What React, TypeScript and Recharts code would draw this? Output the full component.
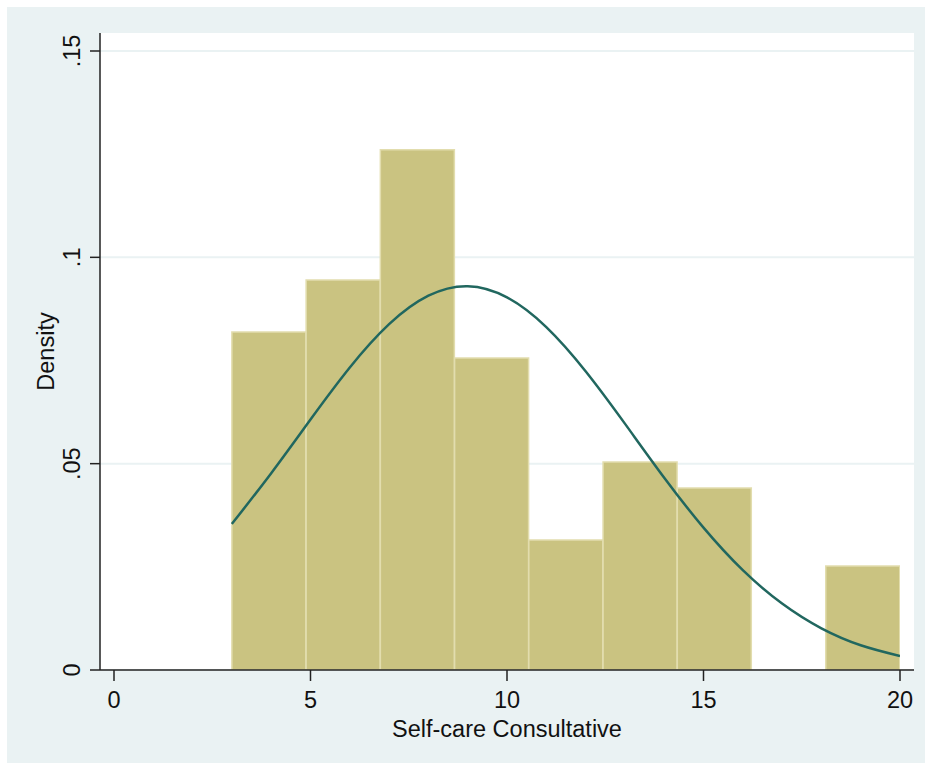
import React from 'react';
import { ComposedChart, Bar, Line, XAxis, YAxis, CartesianGrid, Label } from 'recharts';

// Histogram bins (bin centers, width 17/9 starting at 3)
const binCenters = [3.9444, 5.8333, 7.7222, 9.6111, 11.5, 13.3889, 15.2778, 17.1667, 19.0556];
const binDensity = [0.0819, 0.0945, 0.1261, 0.0756, 0.0315, 0.0504, 0.0441, 0, 0.0252];

// Normal density curve
const curveX = [3, 4, 5, 6, 7, 8, 9, 10, 11, 12, 13, 14, 15, 16, 17, 18, 19, 20];
const curveY = [0.0354, 0.0477, 0.0607, 0.0733, 0.0838, 0.0907, 0.093, 0.0903, 0.0831, 0.0724, 0.0597, 0.0466, 0.0345, 0.0242, 0.0161, 0.0101, 0.006, 0.0034];

const xTicks = [0, 5, 10, 15, 20];
const yTicks = [0, 0.05, 0.1, 0.15];
const yTickLabels = ['0', '.05', '.1', '.15'];

const barData = binCenters.map((x, i) => ({ x, d: binDensity[i] }));
const lineData = curveX.map((x, i) => ({ cx: x, n: curveY[i] }));

const FONT = '"Liberation Sans", Arial, Helvetica, sans-serif';
const FS = 23.5;

const YTick = (props: any) => {
  const { x, y, payload } = props;
  const idx = yTicks.indexOf(payload.value);
  const label = idx >= 0 ? yTickLabels[idx] : String(payload.value);
  return (
    <text x={x} y={y} transform={`rotate(-90 ${x} ${y})`} textAnchor="middle" fontFamily={FONT} fontSize={FS} fill="#111">
      {label}
    </text>
  );
};

const XTick = (props: any) => {
  const { x, y, payload } = props;
  return (
    <text x={x} y={y} textAnchor="middle" fontFamily={FONT} fontSize={FS} fill="#111">
      {payload.value}
    </text>
  );
};

const YTitle = (props: any) => {
  const vb = props.viewBox || { y: 33, height: 637 };
  const cy = vb.y + vb.height / 2;
  return (
    <text x={54} y={cy} transform={`rotate(-90 54 ${cy})`} textAnchor="middle" fontFamily={FONT} fontSize={FS} fill="#111">
      Density
    </text>
  );
};

const XTitle = (props: any) => {
  const vb = props.viewBox || { x: 100, width: 814 };
  const cx = vb.x + vb.width / 2;
  return (
    <text x={cx} y={737} textAnchor="middle" fontFamily={FONT} fontSize={FS} fill="#111">
      Self-care Consultative
    </text>
  );
};

export default function App() {
  return (
    <div style={{ position: 'absolute', left: 0, top: 0, width: 925, height: 770, background: '#ffffff' }}>
      <div style={{ position: 'absolute', left: 7, top: 7, width: 918, height: 756, background: '#EAF2F3' }} />
      <div style={{ position: 'absolute', left: 0, top: 0 }}>
        <ComposedChart
          width={925}
          height={770}
          data={barData}
          barCategoryGap={0}
          barGap={0}
          margin={{ top: 33, right: 11, bottom: 0, left: 0 }}
        >
          <CartesianGrid vertical={false} fill="#ffffff" stroke="#EAF2F3" strokeWidth={2} horizontalValues={yTicks} />
          <XAxis
            dataKey="x"
            type="number"
            domain={[0, 20]}
            ticks={xTicks}
            padding={{ left: 14, right: 14 }}
            height={100}
            tickSize={11}
            tickMargin={27}
            tick={<XTick />}
            axisLine={{ stroke: '#222', strokeWidth: 1.5 }}
            tickLine={{ stroke: '#222', strokeWidth: 1.5 }}
            allowDataOverflow
            label={<Label content={<XTitle />} />}
          />
          <XAxis
            xAxisId="curve"
            dataKey="cx"
            type="number"
            domain={[0, 20]}
            padding={{ left: 14, right: 14 }}
            hide
            allowDataOverflow
          />
          <YAxis
            type="number"
            domain={[0, 0.15]}
            ticks={yTicks}
            padding={{ top: 18, bottom: 0 }}
            width={100}
            tickSize={10}
            tickMargin={10}
            tick={<YTick />}
            axisLine={{ stroke: '#222', strokeWidth: 1.5 }}
            tickLine={{ stroke: '#222', strokeWidth: 1.5 }}
            allowDataOverflow
            label={<Label content={<YTitle />} />}
          />
          <Bar
            dataKey="d"
            fill="#CAC381"
            stroke="#E2DDAE"
            strokeWidth={1.5}
            isAnimationActive={false}
          />
          <Line
            xAxisId="curve"
            data={lineData}
            dataKey="n"
            type="natural"
            stroke="#21675F"
            strokeWidth={2.5}
            dot={false}
            activeDot={false}
            isAnimationActive={false}
          />
        </ComposedChart>
      </div>
    </div>
  );
}
